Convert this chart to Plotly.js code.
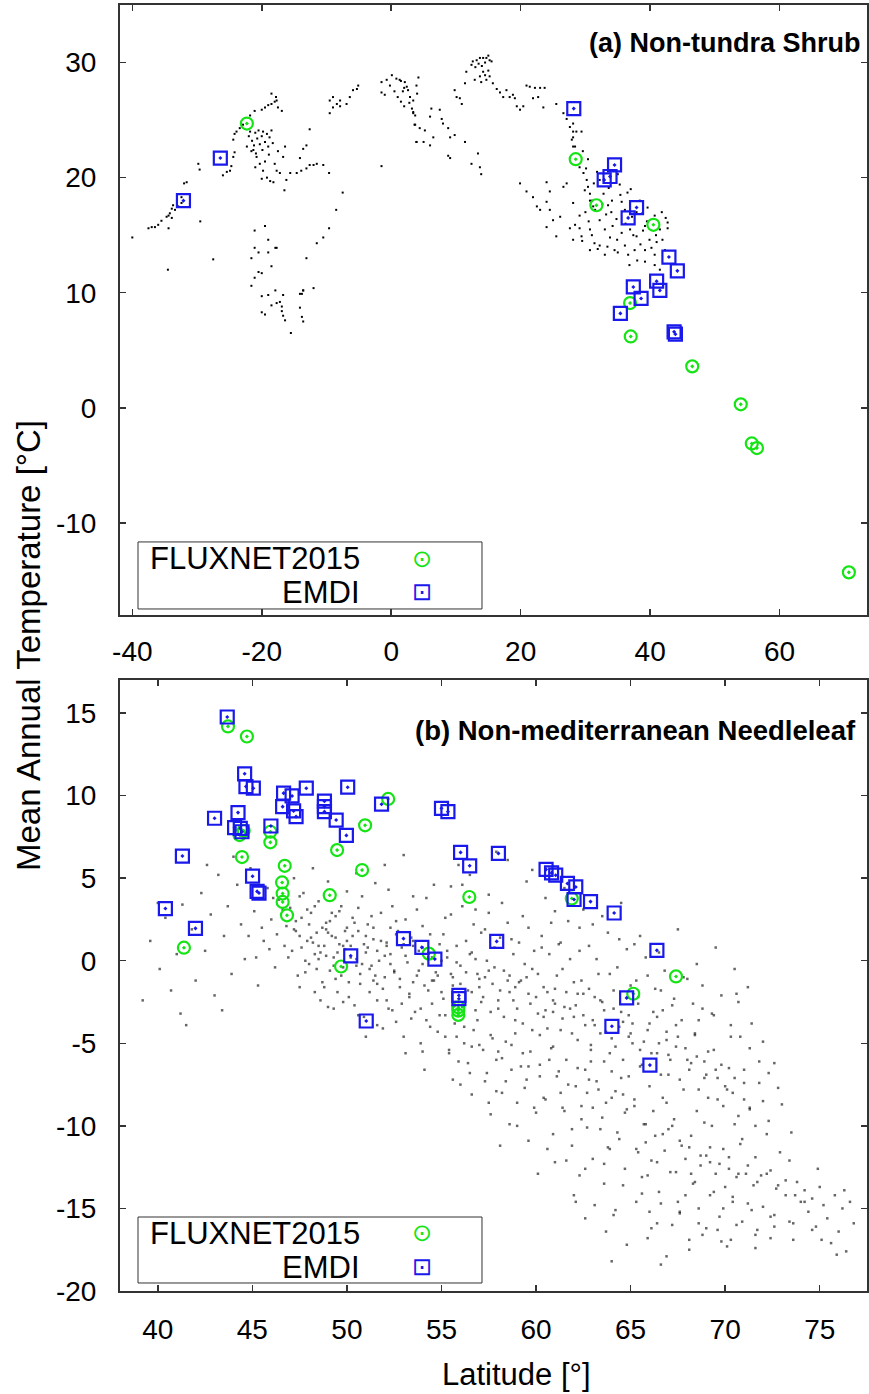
<!DOCTYPE html>
<html>
<head>
<meta charset="utf-8">
<script src="https://cdn.plot.ly/plotly-3.0.1.min.js"></script>
<style>html,body{margin:0;padding:0;background:#fff;}#chart{width:869px;height:1394px;}</style>
</head>
<body>
<div id="chart"></div>
<script>
// ---------- Panel (a): Non-tundra Shrub ----------
const shrubBgLat = [-40.0,-37.5,-37.0,-36.5,-36.0,-35.5,-34.7,-34.4,-34.2,-33.9,-33.7,-33.1,-32.4,-32.0,-31.6,-34.4,-33.9,-33.4,-32.9,-32.4,-34.5,-29.5,-29.8,-29.6,-27.5,
 -26.0,-25.4,-24.9,-24.7,-24.4,-24.2,-24.4,-24.2,-23.9,-23.4,-22.9,
 -21.8,-21.1,-20.0,-19.5,-19.0,-18.5,-18.0,-17.7,-17.5,-16.9,-18.5,-17.8,
 -22.0,-21.8,-21.5,-21.2,-21.0,-20.7,-20.5,-20.3,-20.0,-19.8,-19.5,-19.2,-19.0,-18.8,-18.5,-18.3,-22.3,-21.6,-20.9,-19.9,-18.9,
 -21.3,-20.8,-20.3,-19.8,-19.2,-18.7,-18.2,-17.7,-17.2,-16.7,-16.4,-16.5,-16.2,-21.0,-20.0,-19.5,-18.0,-17.5,
 -15.6,-14.6,-13.9,-13.1,-12.6,-12.0,-11.5,-10.5,-9.6,-14.1,-13.6,-13.1,-12.6,
 -7.5,-8.5,-9.6,-10.5,-11.5,-13.1,-12.0,-13.6,-14.1,
 -21.1,-19.5,-19.0,-21.1,-20.5,-19.0,-17.9,-17.7,-21.6,-18.5,-20.5,-20.0,-21.1,-21.6,-20.0,-19.0,-17.9,-16.7,-18.5,-17.7,-17.2,-16.9,-16.9,-16.7,-16.4,-15.5,-20.0,-19.5,-14.1,-13.8,-13.6,-13.8,-13.6,
 -9.5,-9.0,-8.4,-7.9,-9.0,-9.5,-7.9,-6.9,-6.4,-5.9,-5.3,-5.1,
 -1.5,-0.7,0.1,0.8,1.3,2.1,2.4,2.6,2.9,3.4,3.4,3.7,3.9,4.2,3.7,3.9,-1.5,-1.5,-1.0,0.5,1.0,1.5,2.0,1.8,-0.2,1.5,2.0,2.8,3.2,4.0,
 3.4,3.6,4.4,5.2,6.0,6.2,7.5,7.8,8.0,8.8,9.1,6.5,5.0,6.0,3.9,8.8,9.1,9.8,11.4,12.4,13.4,13.7,13.9,
 9.8,10.1,10.6,10.9,11.4,11.6,12.4,12.6,13.2,13.7,14.2,14.7,15.2,15.5,15.0,14.5,13.7,12.9,13.9,14.7,15.2,15.7,16.3,16.8,17.3,17.8,18.3,18.8,19.1,19.4,19.9,20.4,13.0,13.5,14.0,14.5,15.0,14.2,
 20.9,21.4,22.2,23.0,23.7,21.9,22.7,23.5,25.5,26.6,27.1,27.6,27.9,28.1,
 28.1,28.1,28.1,28.6,29.4,28.4,29.1,29.7,30.2,30.4,30.7,31.0,31.2,
 19.9,20.9,21.9,22.5,23.0,24.0,24.5,24.0,24.5,25.0,24.0,26.1,26.6,27.1,28.1,27.6,29.1,29.4,28.1,25.5,
 29.9,30.7,31.5,32.2,33.0,33.8,32.2,34.1,35.3,36.1,36.9,38.4,39.2,39.9,40.7,41.5,42.3,34.5,36.1,37.6,39.2,32.2,33.0,30.7,29.1,28.4,30.7,40.7,41.8,42.7,42.7,40.7,41.5,39.2,
 32.8,33.5,34.8,35.6,37.2,37.9,38.8,36.5,31.8,30.4,35.0,37.0,39.6,41.0,38.0,36.8,
 30.0,30.5,31.0,31.4,32.6,33.2,33.6,34.2,34.9,35.6,36.2,36.6,37.4,37.9,38.5,38.9,39.5,40.2,40.9,41.9,42.4,33.4,35.0,31.9,29.5,30.1,29.6,31.3,34.0,35.4];
const shrubBgTemp = [14.8,15.6,15.7,15.7,15.9,16.25,16.6,15.6,16.9,17.3,17.6,18.0,18.3,19.5,19.6,16.7,16.5,17.2,17.5,17.8,12.0,16.2,21.2,20.7,12.9,
 20.2,20.5,20.6,21.0,21.8,22.2,23.3,23.8,24.0,24.3,24.6,
 25.4,25.8,25.9,26.1,26.3,26.4,26.6,26.7,26.1,25.8,27.3,27.0,
 23.6,24.0,23.2,22.8,23.9,23.4,24.1,22.9,23.6,24.0,23.1,23.8,22.7,23.5,24.1,23.0,22.7,22.3,22.1,22.4,22.0,
 22.4,21.8,21.2,20.6,20.0,19.7,19.6,20.6,20.4,21.8,22.7,18.9,19.8,20.9,19.9,21.4,21.2,22.3,
 20.4,20.4,20.6,20.8,21.1,21.1,21.2,21.1,20.4,21.7,22.5,22.8,24.2,
 18.7,17.2,15.6,14.8,14.3,13.0,10.4,10.2,9.9,
 15.4,15.8,14.6,13.9,13.5,13.5,13.9,13.9,13.0,12.3,11.8,11.7,11.3,10.6,9.7,9.8,10.2,9.8,8.9,9.1,9.2,8.8,8.4,8.0,7.6,6.5,8.3,8.1,8.7,7.9,7.5,9.9,10.2,
 26.7,27.0,26.4,26.2,26.1,25.6,26.7,26.4,27.0,27.6,27.7,28.0,
 28.3,28.5,28.9,28.6,28.5,28.3,27.9,27.6,27.0,26.7,25.7,25.4,28.0,28.7,24.6,23.1,21.0,27.4,27.2,27.5,27.0,26.6,26.2,27.5,28.0,28.4,27.8,26.5,26.0,27.3,
 25.6,24.6,24.3,24.1,25.3,26.0,25.9,25.1,24.7,24.3,23.5,23.5,23.1,22.8,23.1,21.9,21.7,23.7,23.1,21.2,22.1,20.9,20.3,
 27.6,27.0,26.9,26.4,28.2,29.2,29.8,30.1,30.2,30.4,30.4,30.4,30.2,30.1,29.3,28.9,28.8,28.5,28.3,28.5,28.8,28.2,27.7,27.4,27.0,27.6,27.0,27.2,26.9,26.2,25.9,26.2,29.6,29.9,29.7,30.0,30.6,29.2,
 28.0,27.9,27.8,27.8,27.8,26.9,27.0,26.1,26.4,25.6,25.1,24.4,23.3,22.7,
 24.7,24.0,23.5,24.0,24.0,22.7,20.9,20.4,19.8,19.2,18.6,18.0,17.5,
 19.5,18.8,18.3,17.5,17.2,19.6,18.8,17.9,17.2,16.3,15.7,16.6,19.2,19.5,17.8,15.6,15.6,14.9,14.6,14.9,
 18.9,18.0,17.2,16.3,15.5,14.8,19.8,18.0,19.4,17.2,15.5,18.0,15.8,14.6,13.3,15.5,13.7,13.7,14.1,13.7,13.7,14.1,13.3,15.5,16.7,15.9,13.7,16.7,17.0,16.1,15.6,12.4,12.0,12.7,
 18.6,17.6,16.4,15.2,16.6,14.9,16.9,18.7,20.5,21.6,20.3,19.0,17.4,14.4,12.8,12.4,
 17.0,16.2,15.0,14.3,17.7,16.8,19.1,15.8,14.6,17.9,16.0,13.3,15.0,17.0,14.2,15.4,16.2,13.9,15.0,14.6,16.5,14.0,13.5,13.8,14.5,20.8,22.3,19.5,17.0,18.5];

const shrubFluxLat  = [-22.3,28.5,31.7,40.5,36.9,37.0,46.5,54.0,55.7,56.5,70.7];
const shrubFluxTemp = [24.7,21.6,17.6,15.9,9.1,6.2,3.6,0.3,-3.1,-3.5,-14.3];
const shrubEmdiLat  = [-32.1,-26.4,28.2,34.5,32.9,33.8,37.9,36.6,42.9,44.2,41.0,41.5,37.4,38.6,35.4,43.7,43.9];
const shrubEmdiTemp = [18.0,21.7,26.0,21.1,19.8,20.1,17.4,16.5,13.1,11.9,11.0,10.2,10.5,9.5,8.2,6.6,6.4];

// ---------- Panel (b): Non-mediterranean Needleleaf ----------
const needleBgLat = [39.2,39.6,40.1,40.4,40.7,41.0,41.3,41.5,41.8,42.0,42.3,42.5,42.8,43.0,43.2,43.5,43.7,43.9,44.2,44.4,44.6,44.9,45.1,45.3,45.6,45.8,46.0,46.2,46.4,46.7,41.2,40.0,43.4,44.0,42.6,
 46.8,47.0,47.1,47.3,47.4,47.6,47.7,47.9,48.0,48.1,48.3,48.4,48.5,48.7,48.8,48.9,49.0,49.1,49.2,49.3,49.4,49.5,49.6,49.7,49.8,49.9,50.0,47.2,48.2,48.6,49.0,47.5,48.9,49.4,47.8,49.8,50.0,48.5,
 50.1,50.2,50.3,50.4,50.5,50.6,50.7,50.8,50.9,51.0,51.1,51.2,51.3,51.4,51.5,51.6,51.7,51.8,51.9,52.0,52.1,52.2,52.3,52.4,52.5,52.6,52.7,52.8,52.9,53.0,53.1,53.2,53.3,53.4,53.5,53.6,53.7,53.8,53.9,54.0,54.1,54.2,54.3,54.4,54.5,54.6,54.7,54.8,54.9,55.0,50.5,52.0,53.0,51.0,54.0,52.6,51.4,53.5,54.6,
 55.1,55.2,55.3,55.4,55.5,55.6,55.7,55.8,55.9,56.0,56.1,56.2,56.3,56.4,56.5,56.6,56.7,56.8,56.9,57.0,57.1,57.2,57.3,57.4,57.5,57.6,57.7,57.8,57.9,58.0,58.1,58.2,58.3,58.4,58.5,58.6,58.7,58.8,58.9,59.0,59.1,59.2,59.3,59.4,59.5,59.6,59.7,59.8,59.9,60.0,55.5,56.5,57.5,58.5,59.5,56.0,57.5,59.0,55.8,57.0,58.0,59.6,56.6,58.9,
 60.1,60.2,60.3,60.4,60.5,60.6,60.7,60.8,60.9,61.0,61.1,61.2,61.3,61.4,61.5,61.6,61.7,61.8,61.9,62.0,62.1,62.2,62.3,62.4,62.5,62.6,62.7,62.8,62.9,63.0,63.1,63.2,63.3,63.4,63.5,63.6,63.7,63.8,63.9,64.0,64.1,64.2,64.3,64.4,64.5,64.6,64.7,64.8,64.9,65.0,60.5,61.5,62.5,63.5,64.5,61.0,62.3,63.6,60.2,61.3,62.2,63.0,64.0,64.6,60.9,62.8,
 65.1,65.2,65.3,65.4,65.5,65.6,65.7,65.8,65.9,66.0,66.1,66.2,66.3,66.4,66.5,66.6,66.7,66.8,66.9,67.0,67.1,67.2,67.3,67.4,67.5,67.6,67.7,67.8,67.9,68.0,68.1,68.2,68.3,68.4,68.5,68.6,68.7,68.8,68.9,69.0,69.1,69.2,69.3,69.4,69.5,69.6,69.7,69.8,69.9,70.0,65.5,66.5,67.5,68.5,69.5,66.0,67.2,68.8,65.8,67.0,68.2,69.2,
 70.1,70.2,70.3,70.4,70.5,70.6,70.7,70.8,70.9,71.0,71.1,71.2,71.3,71.4,71.5,71.6,71.7,71.8,71.9,72.0,72.2,72.4,72.6,72.8,73.0,73.2,73.4,73.6,73.8,74.0,70.5,71.2,72.0,72.6,73.5,70.3,71.6,72.4,
 74.2,74.4,74.6,74.8,75.0,75.2,75.4,75.6,75.8,76.0,76.2,76.4,76.6,76.8,75.9,74.9,76.3,75.1,
 62.0,62.6,63.1,63.7,64.2,64.8,65.3,65.9,66.4,66.9,67.6,68.1,69.0,69.8,64.0,66.6,
 47.3,47.6,47.9,48.2,48.4,48.7,48.9,49.2,49.4,49.7,49.9,50.2,50.4,50.7,50.9,51.2,51.4,51.6,51.9,52.1,52.3,52.6,52.8,53.1,53.3,53.5,53.8,54.0,54.3,54.5,54.8,55.1,55.3,55.6,55.8,56.1,56.3,56.6,56.8,57.1,57.3,57.6,57.8,58.1,58.3,58.6,58.8,59.1,59.3,59.6,59.8,60.1,60.4,60.6,60.9,61.1,61.4,61.6,61.9,62.1,62.4,62.6,62.9,63.1,63.4,63.6,63.9,64.1,64.4,64.6,64.9,65.1,65.4,65.6,65.9,66.1,66.4,66.6,66.9,67.1,67.4,67.6,67.9,68.1,68.4,68.6,68.9,69.1,69.4,69.6,69.9,70.2,70.4,70.7,71.0,71.3,71.6,72.0,72.3,
 47.5,48.0,48.5,49.0,49.5,50.0,50.5,51.0,51.5,52.0,52.5,53.0,53.5,54.0,54.5,55.0,55.5,56.0,56.5,57.0,57.5,58.0,58.5,59.0,59.5,60.0,60.5,61.0,61.5,62.0,62.5,63.0,63.5,64.0,64.5,65.0,65.5,66.0,66.5,67.0,67.5,68.0,68.5,69.0,69.5,70.0,70.5,71.0,
 52.4,52.9,53.4,53.9,54.4,54.9,55.2,55.7,56.2,56.7,57.2,57.7,58.2,58.7,59.2,59.7,60.2,60.7,61.2,61.7,62.2,62.7,63.2,63.7,64.2,64.7,65.2,65.7,66.2,66.7,67.2,67.7,68.2,68.7,69.2,69.7,70.2,70.7,71.2,71.7,72.2,72.7,73.2,73.7,74.2,
 55.4,56.4,57.4,58.4,59.4,60.4,61.4,62.4,63.4,64.4,65.4,66.4,67.4,68.4,69.4,70.4,71.4,72.4,73.4,
 56.9,58.9,60.9,62.9,64.9,66.9,68.9,70.9,72.9,57.9,59.9,61.9,63.9,65.9,67.9,69.9,
 46.3,46.6,46.9,47.2,47.5,47.8,48.1,48.3,48.6,48.8,49.1,49.3,49.6,49.8,50.1,50.3,50.6,50.8,51.1,51.3,51.6,51.8,52.1,52.3,45.9,46.1,45.5,45.2,44.8,
 52.2,53.7,55.2,55.9,56.8,57.3,58.2,58.7,59.3,59.8,60.3,60.8,61.3,61.8,62.3,62.8,63.3,63.8,64.3,64.8,65.3,65.8,66.3,66.8,67.3,67.8,68.3,68.8,69.3,69.8,70.3,70.8,71.3,71.8,72.3,72.8,54.2,56.1,57.9,61.0,63.0,65.2,66.7,68.6,70.6,
 55.6,56.6,57.6,58.6,59.6,60.6,61.6,62.6,63.6,64.6,65.6,66.6,67.6,68.6,69.6,70.6,71.6,72.6,73.6,74.6,58.1,60.1,62.1,64.1,66.1,68.1,70.1,53.1,54.1,51.6,50.6,49.3,48.3];
const needleBgTemp = [-2.4,1.2,-0.5,2.6,-1.8,0.4,3.4,-3.9,1.9,-1.2,4.1,0.6,2.8,-2.1,5.2,1.5,3.3,-0.8,4.6,2.2,0.1,5.6,3.0,-1.5,1.2,4.4,2.5,-0.4,3.7,0.9,-3.2,3.5,-3.0,6.3,5.8,
 2.1,3.2,0.6,1.8,-0.9,2.6,4.1,1.2,-0.2,2.9,0.4,1.7,3.6,-1.3,0.9,2.3,4.8,-0.6,1.5,0.2,2.7,-1.9,1.0,3.3,-0.4,0.7,2.0,5.0,5.6,-2.4,-2.8,-1.6,1.9,-1.1,0.0,-2.5,4.2,0.1,
 -1.3,0.9,2.6,-2.7,0.1,1.8,-0.8,3.9,-3.4,0.5,2.2,-1.9,-0.3,1.3,4.7,-2.4,0.0,2.9,-4.1,-1.0,1.1,-2.9,0.4,3.3,-0.6,-3.7,1.8,-1.6,0.8,-4.6,2.5,-0.1,-2.2,1.4,3.9,-3.1,-0.9,0.6,-5.0,2.1,-1.5,-3.6,0.2,1.6,-2.6,4.6,-0.7,-4.3,1.0,-1.9,5.3,5.8,6.4,-4.6,-5.5,2.4,-1.2,0.9,-1.2,
 1.6,-3.3,0.2,-5.4,2.8,-1.0,-2.5,0.9,-6.1,-0.3,3.3,-4.0,1.2,-1.8,-6.8,0.5,2.2,-3.0,-0.8,-5.1,1.7,-2.2,-7.3,0.0,2.9,-4.5,-1.4,0.8,-6.0,-2.9,1.4,-8.0,-0.6,-4.9,2.3,-1.9,-6.6,0.4,-3.6,-8.6,1.1,-1.2,-5.6,-0.2,-7.2,2.0,-2.6,-4.2,0.6,-9.2,4.5,5.2,4.0,6.1,4.8,-7.5,-8.6,-10.0,-4.6,-1.1,-5.5,-6.4,-5.2,-1.6,
 -0.8,-6.3,1.5,-3.4,-8.4,-1.9,0.4,-5.3,-10.5,-2.6,-7.0,1.0,-4.2,-0.5,-9.1,-6.0,2.4,-2.9,-11.2,-1.3,-7.6,-4.8,0.6,-8.8,-3.3,-6.6,-10.1,-1.7,-5.4,-12.0,-3.9,0.1,-7.8,-2.4,-9.5,-6.1,-4.3,-11.3,-0.8,-8.3,-2.9,-5.2,-10.4,1.3,-7.1,-3.7,-12.6,-9.0,-4.6,-1.5,3.8,4.4,3.1,2.7,3.5,-12.2,-13.0,-13.5,-4.5,-8.0,-2.0,-8.9,-6.7,-8.1,-3.1,-7.2,
 -3.8,-8.8,-11.4,-2.2,-6.4,-13.1,-4.9,-9.9,-0.9,-7.6,-12.1,-3.1,-10.6,-5.6,-14.0,-1.8,-8.3,-11.5,-4.3,-6.9,-12.8,-2.7,-9.6,-5.2,-14.6,-10.9,-3.6,-7.8,-12.0,-1.1,-11.3,-6.2,-13.5,-4.4,-9.1,-15.0,-12.4,-2.9,-7.1,-11.8,-5.5,-14.2,-10.0,-3.3,-12.9,-8.4,-15.5,-6.3,-11.4,-13.7,1.5,0.5,1.9,-0.2,0.8,-15.2,-16.0,-16.6,-11.0,-10.2,-12.9,-12.2,
 -7.8,-12.6,-4.6,-14.3,-9.9,-13.1,-2.5,-11.1,-15.8,-6.6,-12.9,-14.7,-9.0,-3.8,-13.6,-11.9,-16.3,-7.4,-13.0,-14.9,-10.5,-12.7,-15.4,-13.6,-8.7,-14.2,-12.1,-15.9,-13.4,-14.6,-0.5,-1.6,-4.9,-6.2,-10.4,-16.9,-17.4,-16.8,
 -13.9,-15.2,-14.4,-16.1,-13.7,-14.8,-15.6,-17.1,-14.2,-16.4,-15.0,-17.6,-14.6,-15.9,-17.8,-12.6,-13.9,-16.9,
 -14.2,-15.6,-14.8,-16.4,-15.1,-17.2,-14.6,-16.8,-15.9,-17.9,-15.3,-17.5,-16.2,-17.0,-18.2,-18.4,
 2.4,0.8,3.1,1.1,-0.5,2.0,0.3,2.9,1.4,-0.9,1.8,0.2,2.3,-1.4,1.0,-0.5,2.0,0.6,-1.7,0.9,-0.2,1.6,-1.1,0.3,-2.0,1.2,-0.6,0.8,-1.8,0.2,-0.9,-2.3,0.6,-1.5,-0.1,-2.8,-0.7,-1.9,0.1,-2.5,-1.0,-3.1,-0.4,-1.8,-3.4,-0.9,-2.4,-1.3,-3.8,-2.0,-0.5,-3.2,-1.6,-4.1,-2.4,-0.9,-3.5,-1.9,-4.4,-2.7,-1.2,-3.9,-5.1,-2.2,-4.4,-3.0,-5.6,-1.8,-4.0,-6.0,-3.3,-5.0,-2.6,-6.3,-4.2,-5.6,-3.4,-6.9,-4.8,-6.0,-3.9,-7.2,-5.3,-6.6,-4.5,-7.8,-6.1,-8.3,-5.4,-7.1,-8.8,-6.5,-8.0,-9.4,-7.4,-8.9,-10.0,-8.5,-9.7,
 1.5,2.2,0.9,1.7,0.5,1.2,-0.3,1.5,-0.9,0.3,-0.7,1.0,-1.3,-0.2,-1.2,0.0,-0.8,-1.4,0.4,-1.6,-0.6,-2.4,-1.2,-2.9,-1.0,-2.2,-3.0,-1.7,-2.8,-3.4,-2.0,-3.6,-2.5,-4.7,-3.1,-4.4,-5.4,-3.8,-5.0,-5.7,-4.6,-6.0,-5.8,-6.9,-6.6,-7.6,-7.1,-8.4,
 -3.0,-2.6,-3.5,-2.9,-4.0,-3.3,-4.6,-3.8,-5.0,-4.2,-5.4,-4.7,-5.9,-5.1,-6.4,-5.5,-7.0,-6.0,-6.7,-7.5,-6.5,-8.0,-7.3,-8.6,-7.9,-9.2,-8.4,-9.9,-9.1,-10.5,-10.0,-11.2,-10.6,-11.8,-11.3,-12.3,-11.9,-12.9,-12.4,-13.4,-12.9,-13.8,-13.3,-14.2,-14.6,
 -5.6,-6.2,-6.8,-7.3,-7.7,-8.3,-8.9,-9.6,-10.2,-10.8,-11.6,-12.2,-12.8,-13.4,-14.0,-14.6,-15.1,-15.5,-15.8,
 -3.6,-4.4,-5.2,-6.1,-7.0,-8.6,-9.8,-10.8,-11.6,-7.9,-8.9,-10.2,-11.4,-13.0,-14.2,-15.0,
 1.6,3.1,0.2,1.9,3.9,-0.7,1.4,3.3,0.5,-1.6,2.4,-0.3,3.0,0.9,-2.2,1.5,3.2,-0.2,0.8,2.7,-1.4,1.2,-2.4,2.0,0.7,3.8,2.0,0.2,1.5,
 4.3,3.1,2.6,5.8,3.1,1.9,3.5,1.3,2.7,5.5,0.8,2.3,1.1,0.1,2.0,0.9,-0.8,1.7,-0.4,0.7,-1.2,0.2,-1.7,-0.6,-2.3,-1.0,-2.6,-1.5,-3.2,-2.1,-3.9,-4.6,-5.3,-6.1,-6.8,-7.7,3.8,4.6,6.6,3.0,2.2,1.0,-3.0,-3.6,-2.0,
 -7.2,-8.1,-9.3,-9.9,-10.9,-11.4,-12.1,-12.6,-12.3,-13.6,-14.1,-14.7,-15.2,-15.9,-16.3,-16.0,-16.6,-16.1,-16.9,-16.3,-11.2,-12.9,-14.6,-15.4,-16.2,-16.9,-17.3,-5.6,-6.6,-3.9,-3.3,-2.9,-1.9];

const needleFluxLat  = [43.71,44.71,52.18,50.96,49.48,50.80,49.09,46.71,46.57,46.60,46.60,46.83,44.45,44.32,44.54,45.95,45.95,41.38,49.69,54.33,56.47,61.89,67.40,65.14,55.89,55.89,55.89];
const needleFluxTemp = [14.19,13.58,9.80,8.20,6.70,5.49,3.97,5.75,4.74,4.07,3.56,2.75,6.28,7.61,7.87,7.81,7.17,0.79,-0.35,0.43,3.86,3.77,-0.95,-2.0,-2.82,-3.02,-3.28];
const needleEmdiLat  = [43.67,44.59,44.66,45.05,46.65,47.10,47.85,50.04,46.60,47.18,47.31,48.81,48.81,48.81,49.43,49.97,51.83,43.0,44.24,44.06,44.36,44.45,45.98,41.30,45.01,45.25,45.35,40.40,41.99,50.20,52.99,53.96,54.65,55.0,55.34,56.01,56.49,58.01,57.92,60.53,60.82,61.04,61.66,62.10,62.01,62.88,64.13,66.39,51.02,55.92,55.92,64.79,64.01,66.02];
const needleEmdiTemp = [14.76,11.32,10.55,10.45,10.15,9.98,10.45,10.51,9.33,9.07,8.73,9.66,9.33,9.03,8.52,7.59,9.48,8.63,8.97,8.06,8.02,7.81,8.16,6.34,5.12,4.20,4.10,3.16,1.96,0.30,1.34,0.81,0.10,9.23,9.03,6.56,5.75,6.50,1.17,5.53,5.32,5.18,4.68,4.47,3.71,3.58,2.89,0.63,-3.65,-2.10,-2.30,-2.25,-3.97,-6.32];

// tick values and labels (plain hyphen minus as in the original)
const shrubXTicks = [-40, -20, 0, 20, 40, 60];
const shrubXLabels = ['-40', '-20', '0', '20', '40', '60'];
const shrubYTicks = [-10, 0, 10, 20, 30];
const shrubYLabels = ['-10', '0', '10', '20', '30'];
const needleXTicks = [40, 45, 50, 55, 60, 65, 70, 75];
const needleXLabels = ['40', '45', '50', '55', '60', '65', '70', '75'];
const needleYTicks = [-20, -15, -10, -5, 0, 5, 10, 15];
const needleYLabels = ['-20', '-15', '-10', '-5', '0', '5', '10', '15'];

const seriesNames = ['FLUXNET2015', 'EMDI'];
const panelLabels = ['(a) Non-tundra Shrub', '(b) Non-mediterranean Needleleaf'];
const yTitle = 'Mean Annual Temperature [°C]';
const xTitle = 'Latitude [°]';

// ---------- styles ----------
const GREEN = 'rgb(20,228,20)';
const BLUE = 'rgb(25,25,235)';
const FONT = 'Liberation Sans, Arial, Helvetica, sans-serif';
const AXC = '#333';

function bg(x, y, xa, ya, col, size) {
  return {x: x, y: y, xaxis: xa, yaxis: ya, type: 'scatter', mode: 'markers', showlegend: false,
    hoverinfo: 'skip', marker: {symbol: 'square', size: size, color: col, line: {width: 0}}};
}
function mk(x, y, xa, ya, sym, col, name) {
  return {x: x, y: y, xaxis: xa, yaxis: ya, type: 'scatter', mode: 'markers', name: name, showlegend: false,
    marker: {symbol: sym, size: sym.indexOf('square') === 0 ? 13 : 12, color: col, line: {width: 2.2, color: col}}};
}

const traces = [
  bg(shrubBgLat, shrubBgTemp, 'x', 'y', '#000', 2),
  mk(shrubFluxLat, shrubFluxTemp, 'x', 'y', 'circle-open-dot', GREEN, seriesNames[0]),
  mk(shrubEmdiLat, shrubEmdiTemp, 'x', 'y', 'square-open-dot', BLUE, seriesNames[1]),
  bg(needleBgLat, needleBgTemp, 'x2', 'y2', 'rgba(0,0,0,0.6)', 2.5),
  mk(needleFluxLat, needleFluxTemp, 'x2', 'y2', 'circle-open-dot', GREEN, seriesNames[0]),
  mk(needleEmdiLat, needleEmdiTemp, 'x2', 'y2', 'square-open-dot', BLUE, seriesNames[1])
];

const axBase = {showline: true, linewidth: 2, linecolor: AXC, mirror: 'ticks', ticks: 'inside', ticklen: 6,
  tickwidth: 1.5, tickcolor: AXC, showgrid: false, zeroline: false, tickfont: {family: FONT, size: 28, color: '#000'}};

function legendBox(xr, yr, y0, y1) {
  return {type: 'rect', xref: xr, yref: yr, x0: 0.0241, x1: 0.4846, y0: y0, y1: y1,
    line: {color: AXC, width: 1}, fillcolor: 'rgba(255,255,255,0)'};
}
function txt(px, py, s, anchor, font) {
  return {xref: 'paper', yref: 'paper', x: (px - 120) / 747, y: (1291 - py) / 1286, xanchor: anchor, yanchor: 'middle',
    showarrow: false, text: s, font: font};
}
const legFont = {family: FONT, size: 31, color: '#000'};
const circFont = {family: 'DejaVu Sans', size: 24, color: GREEN};
const sqFont = {family: 'DejaVu Sans', size: 24, color: BLUE};

const layout = {
  width: 869, height: 1394,
  margin: {l: 120, r: 2, t: 5, b: 103},
  paper_bgcolor: '#fff', plot_bgcolor: '#fff',
  font: {family: FONT, color: '#000'},
  showlegend: false,
  xaxis: Object.assign({}, axBase, {domain: [0, 1], anchor: 'y', range: [-41.9, 73.5], tickmode: 'array', tickvals: shrubXTicks, ticktext: shrubXLabels, ticklabelstandoff: 10}),
  yaxis: Object.assign({}, axBase, {domain: [0.5257, 1], anchor: 'x', range: [-18, 35], tickmode: 'array', tickvals: shrubYTicks, ticktext: shrubYLabels, ticklabelstandoff: 16}),
  xaxis2: Object.assign({}, axBase, {domain: [0, 1], anchor: 'y2', range: [38, 77.5], tickmode: 'array', tickvals: needleXTicks, ticktext: needleXLabels, ticklabelstandoff: 12}),
  yaxis2: Object.assign({}, axBase, {domain: [0, 0.4751], anchor: 'x2', range: [-20, 17], tickmode: 'array', tickvals: needleYTicks, ticktext: needleYLabels, ticklabelstandoff: 16}),
  shapes: [
    legendBox('x domain', 'y domain', 0.0098, 0.1197),
    legendBox('x2 domain', 'y2 domain', 0.0131, 0.1211)
  ],
  annotations: [
    {xref: 'x domain', yref: 'y domain', x: 0.9933, y: 0.9377, xanchor: 'right', yanchor: 'middle', showarrow: false,
     text: '<b>' + panelLabels[0] + '</b>', font: {family: FONT, size: 27, color: '#000'}},
    {xref: 'x2 domain', yref: 'y2 domain', x: 0.988, y: 0.918, xanchor: 'right', yanchor: 'middle', showarrow: false,
     text: '<b>' + panelLabels[1] + '</b>', font: {family: FONT, size: 27.5, color: '#000'}},
    txt(362, 558, seriesNames[0], 'right', legFont),
    txt(362, 592, seriesNames[1], 'right', legFont),
    txt(422, 559, '⊙', 'center', circFont),
    txt(422, 592, '⊡', 'center', sqFont),
    txt(362, 1233, seriesNames[0], 'right', legFont),
    txt(362, 1267, seriesNames[1], 'right', legFont),
    txt(422, 1233, '⊙', 'center', circFont),
    txt(422, 1267, '⊡', 'center', sqFont),
    Object.assign(txt(28, 646, yTitle, 'center', {family: FONT, size: 33, color: '#000'}), {textangle: -90}),
    txt(516, 1374, xTitle, 'center', {family: FONT, size: 31, color: '#000'})
  ]
};

Plotly.newPlot('chart', traces, layout, {displayModeBar: false, staticPlot: true});
</script>
</body>
</html>
